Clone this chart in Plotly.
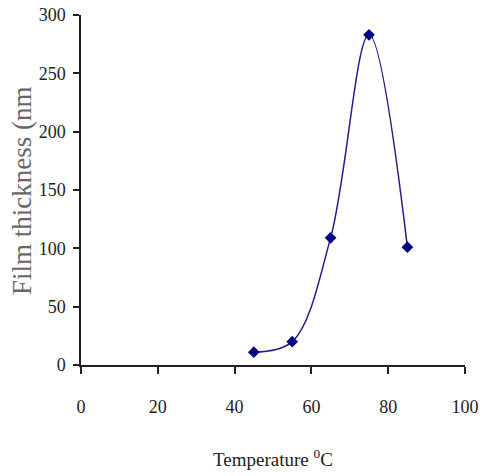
import plotly.graph_objects as go

temperature = [45, 55, 65, 75, 85]
thickness = [11, 20, 109, 283, 101]
x_ticks = [0, 20, 40, 60, 80, 100]
y_ticks = [0, 50, 100, 150, 200, 250, 300]

fig = go.Figure()
fig.add_trace(go.Scatter(
    x=temperature, y=thickness, mode="lines+markers",
    line=dict(color="#20208f", width=1.5, shape="spline", smoothing=1),
    marker=dict(symbol="diamond", size=9, color="#000080"),
    cliponaxis=False,
))

font = "Liberation Serif"
fig.update_layout(
    width=483, height=476,
    margin=dict(l=81, r=18, t=15, b=111, autoexpand=False),
    plot_bgcolor="white", paper_bgcolor="white",
    showlegend=False,
    font=dict(family=font, size=18, color="#222"),
)
fig.update_xaxes(
    range=[0, 100], tickvals=x_ticks, showgrid=False, zeroline=False,
    automargin=False,
    showline=True, linecolor="#222", linewidth=1.5,
    ticks="outside", ticklen=7, tickwidth=1.5, tickcolor="#222",
    ticklabelstandoff=18, tickfont=dict(size=18, family=font),
)
fig.update_yaxes(
    range=[0, 300], tickvals=y_ticks, showgrid=False, zeroline=False,
    automargin=False,
    showline=True, linecolor="#222", linewidth=1.5,
    ticks="outside", ticklen=6, tickwidth=1.5, tickcolor="#222",
    ticklabelstandoff=4, tickfont=dict(size=18, family=font),
)
fig.add_annotation(
    text="Temperature <sup>0</sup>C", xref="paper", yref="paper",
    x=(273 - 81) / 384, y=0, yshift=-93, xanchor="center", yanchor="middle",
    showarrow=False, font=dict(family=font, size=19, color="#222"),
)
fig.add_annotation(
    text="Film thickness (nm", xref="paper", yref="paper",
    x=0, xshift=-59, y=(365 - 191) / 350, textangle=-90,
    xanchor="center", yanchor="middle",
    showarrow=False, font=dict(family=font, size=27, color="#666"),
)

fig.write_html("out.html", config={"displayModeBar": False},
               post_script="document.body.style.margin='0';")
